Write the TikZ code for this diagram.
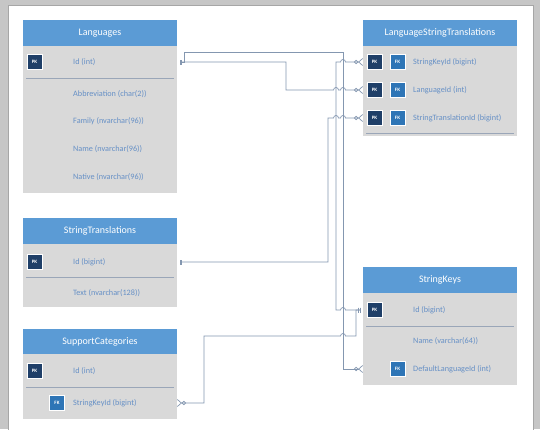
\documentclass[tikz,border=0pt]{standalone}
\usepackage{fontspec}
\setmainfont{Carlito}
\usetikzlibrary{arrows.meta,positioning}
\definecolor{headblue}{HTML}{5B9BD5}
\definecolor{bodygray}{HTML}{D9D9D9}
\definecolor{fieldtext}{HTML}{6690C6}
\definecolor{pkblue}{HTML}{1F3F68}
\definecolor{fkblue}{HTML}{2E75B6}
\definecolor{wire}{HTML}{8497B0}
\definecolor{pagegray}{HTML}{C6C6C6}
\definecolor{sepline}{HTML}{9AA6B8}

\begin{document}
\begin{tikzpicture}[x=1pt, y=-1pt,
  head/.style={fill=headblue, text=white, anchor=north west, inner sep=0pt, outer sep=0pt,
    minimum width=154pt, minimum height=26pt, font=\fontsize{10}{11}\selectfont},
  tbody/.style={fill=bodygray, anchor=north west, inner sep=0pt, outer sep=0pt, minimum width=154pt},
  field/.style={anchor=west, inner sep=0pt, text=fieldtext, font=\fontsize{8.2}{9}\selectfont},
  pk/.style={fill=pkblue, draw=white, line width=0.8pt, minimum size=15pt, inner sep=0pt,
    text=white, font=\fontsize{5}{6}\selectfont\bfseries},
  fk/.style={pk, fill=fkblue},
  sep/.style={draw=sepline, line width=0.7pt},
  link/.style={draw=wire, line width=0.7pt},
  onetomany/.style={link, {Bar[width=5pt,sep=2.5pt]Bar[width=5pt,sep=1pt]}-{Circle[open,length=4pt,width=4pt]Straight Barb[reversed,length=4pt,width=7pt]}}
]
\useasboundingbox (0,0) rectangle (540,429);
\fill[pagegray] (0,0) rectangle (540,429);
\filldraw[fill=white, draw=gray!70] (8,5) rectangle (533,432);

% Languages
\node[head] (lang) at (23,20) {Languages};
\node[tbody, minimum height=147pt] (langb) at (23,46) {};
\node[pk] (lpk) at (34.5,62) {PK};
\node[field] (lid) at (73,62) {Id (int)};
\draw[sep] (26,78) -- (174,78);
\node[field] (labbr) at (73,94) {Abbreviation (char(2))};
\node[field] (lfam) at (73,121) {Family (nvarchar(96))};
\node[field] (lname) at (73,149) {Name (nvarchar(96))};
\node[field] (lnat) at (73,177) {Native (nvarchar(96))};

% LanguageStringTranslations
\node[head] (lst) at (363,20) {LanguageStringTranslations};
\node[tbody, minimum height=90pt] (lstb) at (363,46) {};
\node[pk] (lstpk1) at (374.5,62) {PK};
\node[fk] (lstfk1) at (397.5,62) {FK};
\node[field] (lstkey) at (413,62) {StringKeyId (bigint)};
\node[pk] (lstpk2) at (374.5,90) {PK};
\node[fk] (lstfk2) at (397.5,90) {FK};
\node[field] (lstlang) at (413,90) {LanguageId (int)};
\node[pk] (lstpk3) at (374.5,118) {PK};
\node[fk] (lstfk3) at (397.5,118) {FK};
\node[field] (lsttr) at (413,118) {StringTranslationId (bigint)};
\draw[sep] (366,133) -- (514,133);

% StringTranslations
\node[head] (st) at (23,218) {StringTranslations};
\node[tbody, minimum height=63pt] (stb) at (23,244) {};
\node[pk] (stpk) at (34.5,262) {PK};
\node[field] (stid) at (73,262) {Id (bigint)};
\draw[sep] (26,277) -- (174,277);
\node[field] (sttext) at (73,293) {Text (nvarchar(128))};

% StringKeys
\node[head] (sk) at (363,267) {StringKeys};
\node[tbody, minimum height=92pt] (skb) at (363,293) {};
\node[pk] (skpk) at (374.5,310) {PK};
\node[field] (skid) at (413,310) {Id (bigint)};
\draw[sep] (366,326) -- (514,326);
\node[field] (skname) at (413,341) {Name (varchar(64))};
\node[fk] (skfk) at (397.5,369) {FK};
\node[field] (skdef) at (413,369) {DefaultLanguageId (int)};

% SupportCategories
\node[head, minimum height=25pt] (sc) at (23,329) {SupportCategories};
\node[tbody, minimum height=65pt] (scb) at (23,354) {};
\node[pk] (scpk) at (34.5,371) {PK};
\node[field] (scid) at (73,371) {Id (int)};
\draw[sep] (26,387) -- (174,387);
\node[fk] (scfk) at (57,403) {FK};
\node[field] (sckey) at (73,403) {StringKeyId (bigint)};

% relations
\draw[onetomany] (lid -| lang.east) -- (184,62) -- (184,52) -- (343,52) -- (343,369) -- (skdef -| sk.west);
\draw[onetomany] (lid -| lang.east) -- (286,62) -- (286,90)
  -- (333.5,90) arc[start angle=180, end angle=360, radius=2.5]
  -- (340.5,90) arc[start angle=180, end angle=360, radius=2.5] -- (lstlang -| lst.west);
\draw[onetomany] (stid -| st.east) -- (328,262) -- (328,118)
  -- (333.5,118) arc[start angle=180, end angle=360, radius=2.5]
  -- (340.5,118) arc[start angle=180, end angle=360, radius=2.5] -- (lsttr -| lst.west);
\draw[onetomany] (skid -| sk.west) -- (345.5,310) arc[start angle=0, end angle=-180, radius=2.5]
  -- (336,310) -- (336,62) -- (340.5,62) arc[start angle=180, end angle=360, radius=2.5] -- (lstkey -| lst.west);
\draw[onetomany] (skid -| sk.west) -- (356,310) -- (356,336)
  -- (345.5,336) arc[start angle=0, end angle=-180, radius=2.5]
  -- (204,336) -- (204,403) -- (sckey -| sc.east);
\end{tikzpicture}
\end{document}
